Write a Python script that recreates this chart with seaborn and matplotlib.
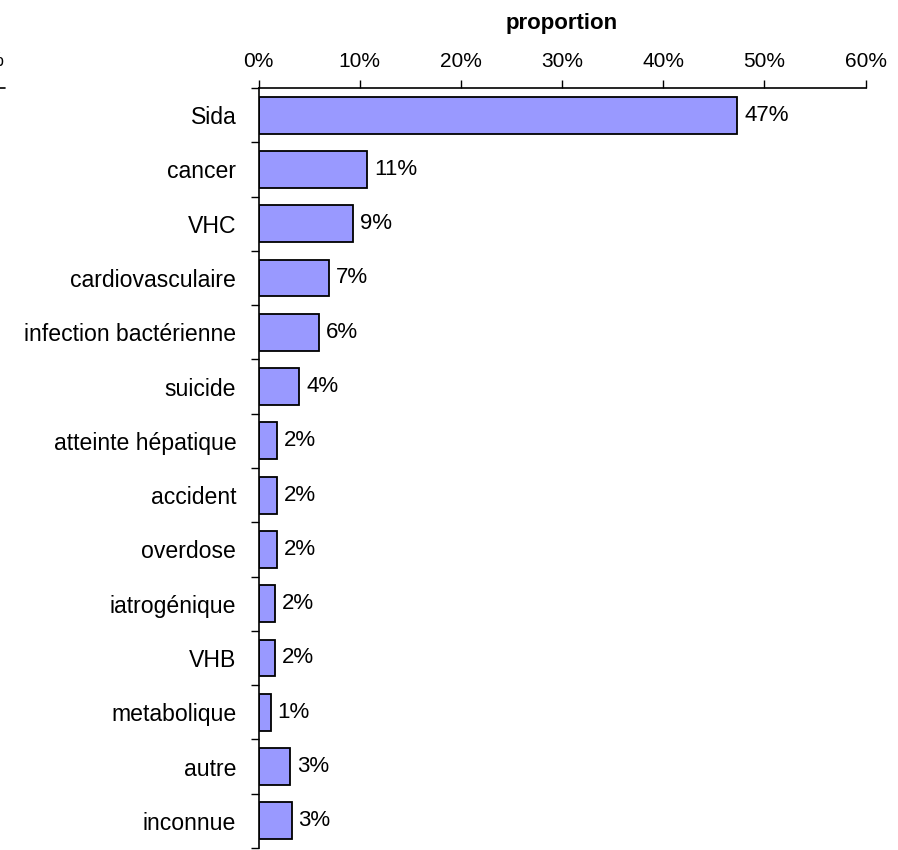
import matplotlib

matplotlib.use("Agg")
import matplotlib.pyplot as plt
import seaborn as sns
from matplotlib.lines import Line2D
from matplotlib.ticker import FuncFormatter, MultipleLocator
from pandas import DataFrame

# causes of death and their share (percent)
causes = [
    "Sida",
    "cancer",
    "VHC",
    "cardiovasculaire",
    "infection bactérienne",
    "suicide",
    "atteinte hépatique",
    "accident",
    "overdose",
    "iatrogénique",
    "VHB",
    "metabolique",
    "autre",
    "inconnue",
]
proportions = [47.3, 10.7, 9.3, 7.0, 5.95, 4.03, 1.82, 1.82, 1.82, 1.63, 1.63, 1.19, 3.11, 3.26]
x_ticks = [0, 10, 20, 30, 40, 50, 60]

BAR_COLOR = "#9999FF"

sns.set_style("white")
plt.rcParams["font.family"] = ["Liberation Sans", "DejaVu Sans"]
plt.rcParams["text.color"] = "black"
plt.rcParams["axes.labelcolor"] = "black"
plt.rcParams["xtick.color"] = "black"
plt.rcParams["ytick.color"] = "black"

df = DataFrame({"cause": causes, "proportion": proportions})

fig = plt.figure(figsize=(8.98, 8.5), dpi=100)
ax = fig.add_axes([0.2879, 0.0024, 0.964 - 0.2879, 0.8965 - 0.0024])

sns.barplot(
    data=df,
    x="proportion",
    y="cause",
    orient="h",
    color=BAR_COLOR,
    saturation=1,
    edgecolor="black",
    linewidth=1.3,
    width=0.68,
    ax=ax,
)

ax.set_xlim(0, 60)
ax.set_ylim(len(causes) - 0.5, -0.5)
ax.set_xticks(x_ticks)
ax.xaxis.set_major_formatter(FuncFormatter(lambda v, p: f"{v:.0f}%"))
ax.xaxis.tick_top()
ax.xaxis.set_label_position("top")
ax.set_xlabel("proportion", fontsize=16, fontweight="bold", labelpad=17)
ax.set_ylabel("")
ax.tick_params(axis="x", which="major", top=True, bottom=False, length=6,
               width=1, labelsize=15, pad=6)
ax.tick_params(axis="y", which="major", left=True, length=0, labelsize=16.6, pad=16)
ax.yaxis.set_minor_locator(MultipleLocator(1, offset=0.5))
ax.tick_params(axis="y", which="minor", left=True, length=6, width=1)
for lbl in ax.get_yticklabels():
    lbl.set_va("center_baseline")

for side in ["right", "bottom"]:
    ax.spines[side].set_visible(False)
for side in ["top", "left"]:
    ax.spines[side].set_color("black")
    ax.spines[side].set_linewidth(1.2)

ax.bar_label(
    ax.containers[0],
    labels=[f"{v:.0f}%" for v in proportions],
    padding=5,
    fontsize=16,
)

# remnant of the neighbouring chart cut at the left edge
fig.text(4 / 898, 1 - 60 / 850, "60%", ha="right", va="center", fontsize=15)
fig.add_artist(Line2D([0, 5 / 898], [1 - 88 / 850, 1 - 88 / 850],
                      color="black", linewidth=1.2, transform=fig.transFigure))

fig.savefig("out.png", dpi=100)
